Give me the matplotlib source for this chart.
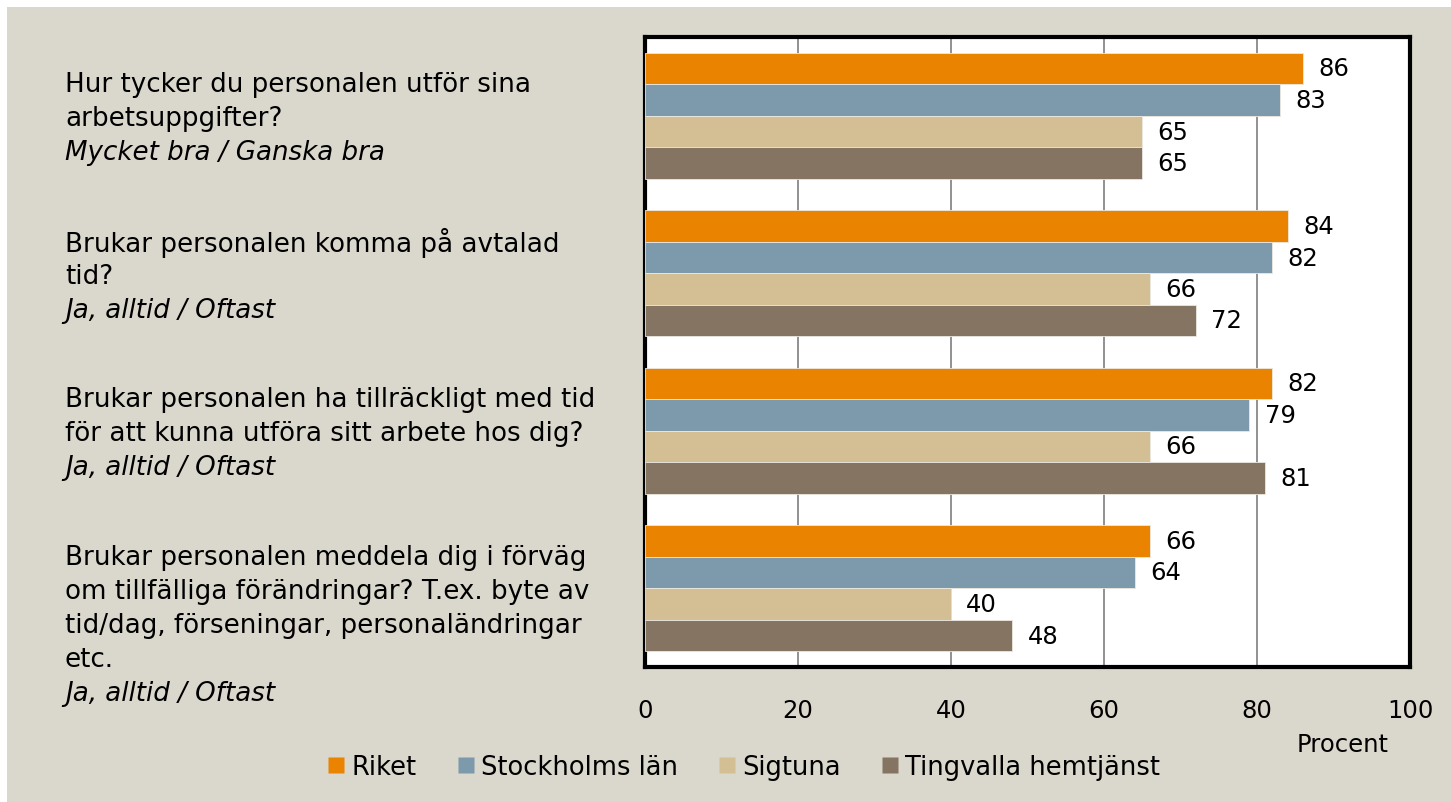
import numpy as np
import matplotlib.pyplot as plt
from matplotlib.lines import Line2D
from matplotlib.patches import Rectangle
import matplotlib.transforms as mtransforms

plt.rcParams['font.family'] = ['DejaVu Sans']

series = ['Riket', 'Stockholms län', 'Sigtuna', 'Tingvalla hemtjänst']
colors = ['#E98300', '#7D9AAC', '#D4BF94', '#857462']

questions = [
    ['Hur tycker du personalen utför sina', 'arbetsuppgifter?'],
    ['Brukar personalen komma på avtalad', 'tid?'],
    ['Brukar personalen ha tillräckligt med tid', 'för att kunna utföra sitt arbete hos dig?'],
    ['Brukar personalen meddela dig i förväg', 'om tillfälliga förändringar? T.ex. byte av',
     'tid/dag, förseningar, personaländringar', 'etc.'],
]
answers = ['Mycket bra / Ganska bra', 'Ja, alltid / Oftast', 'Ja, alltid / Oftast', 'Ja, alltid / Oftast']

riket = [86, 84, 82, 66]
stockholm = [83, 82, 79, 64]
sigtuna = [65, 66, 66, 40]
tingvalla = [65, 72, 81, 48]
values = [riket, stockholm, sigtuna, tingvalla]

fig = plt.figure(figsize=(14.51, 8.03), dpi=100)
fig.patch.set_facecolor('white')
fig.patches.append(Rectangle((7 / 1451, 0), 1, 1 - 8 / 803, transform=fig.transFigure,
                             facecolor='#DAD8CC', edgecolor='none', zorder=-10))

ax = fig.add_axes([645 / 1451, 1 - 668 / 803, 765 / 1451, 630 / 803])
ax.set_facecolor('white')

n = len(questions)
y = np.arange(n)
h = 0.2
for j, (vals, c) in enumerate(zip(values, colors)):
    pos = y - 0.3 + j * h
    ax.barh(pos, vals, height=h, color=c, edgecolor='#ece8e0', linewidth=0.6, zorder=3)
    for p, v in zip(pos, vals):
        ax.text(v + 2.0, p, f'{v}', va='center', ha='left', fontsize=17.5, zorder=4)

ax.set_xlim(0, 100)
ax.set_ylim(n - 0.5, -0.5)
ax.set_xticks(np.arange(0, 101, 20))
ax.set_yticks([])
ax.grid(axis='x', color='#909090', linewidth=1.4, zorder=0)
ax.tick_params(axis='x', length=0, pad=22, labelsize=17.5)
for s in ax.spines.values():
    s.set_linewidth(3)
    s.set_color('black')

ax.text(0.912, -0.123, 'Procent', transform=ax.transAxes, ha='center', va='center', fontsize=17.5)

# question labels to the left of the axes
trans = mtransforms.blended_transform_factory(fig.transFigure, ax.transData)
line_step = 34 / 157.5
for i, (lines, ans) in enumerate(zip(questions, answers)):
    y0 = i - 0.2
    for k, line in enumerate(lines):
        ax.text(65 / 1451, y0 + k * line_step, line, transform=trans, ha='left', va='center',
                fontsize=18.8, clip_on=False)
    ax.text(65 / 1451, y0 + len(lines) * line_step, ans, transform=trans, ha='left', va='center',
            fontsize=18.8, style='italic', clip_on=False)

handles = [Line2D([], [], marker='s', linestyle='none', markersize=12, markerfacecolor=c,
                  markeredgecolor='none') for c in colors]
fig.legend(handles, series, loc='center', bbox_to_anchor=(742 / 1451, 1 - 768 / 803), ncol=4,
           frameon=False, fontsize=18.5, handletextpad=0.1, columnspacing=1.4, handlelength=1.0)

fig.savefig('out.png', dpi=100, facecolor=fig.get_facecolor())
